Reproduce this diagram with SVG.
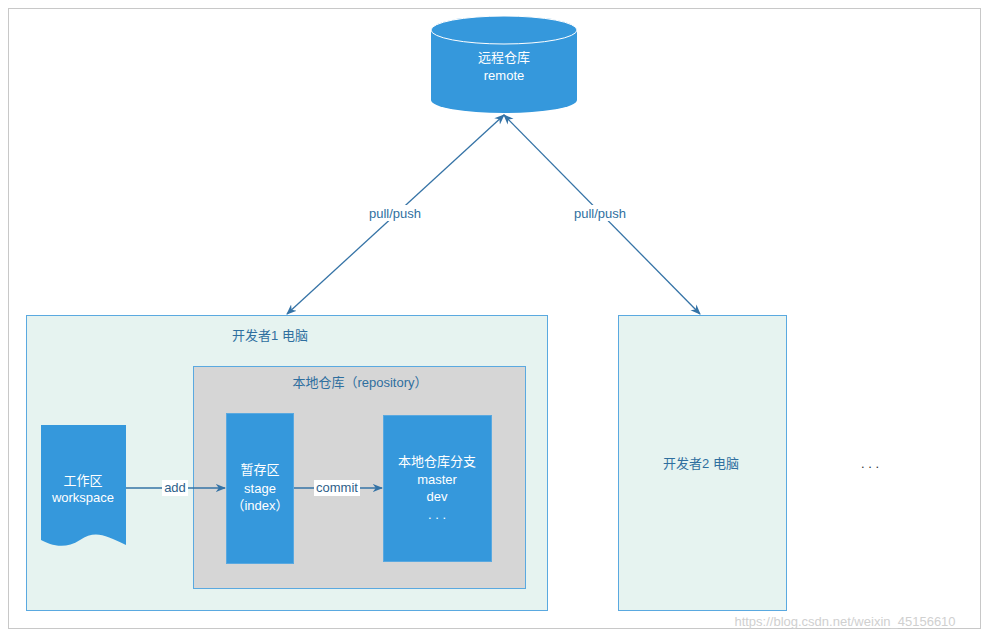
<svg xmlns="http://www.w3.org/2000/svg" width="989" height="639" viewBox="0 0 989 639">
<defs>
<style>
text{font-family:"Liberation Sans","Noto Sans CJK SC",sans-serif;font-size:13px;text-anchor:middle}
.w{fill:#fff}.b{fill:#2f6f9f}
.node{fill:#3598dc;stroke:#5aa9e0}
.ln{stroke:#3573a6;stroke-width:1.3;fill:none}
</style>
<marker id="ah" viewBox="0 0 10 10" refX="9" refY="5" markerWidth="8" markerHeight="8" orient="auto-start-reverse"><path d="M0,1 L10,5 L0,9 L3,5 Z" fill="#3573a6"/></marker>
</defs>
<rect width="989" height="639" fill="#fff"/>
<rect x="8.5" y="8.5" width="972" height="620" fill="none" stroke="#c8c8c8"/>
<g id="dev1"><rect x="26.5" y="315.5" width="521" height="295" fill="#e6f3f0" stroke="#5aa9e0"/><text x="270" y="340" class="b">开发者1  电脑</text></g>
<g id="repo"><rect x="193.5" y="366.5" width="332" height="222" fill="#d6d6d6" stroke="#5aa9e0"/><text x="360" y="387" class="b">本地仓库（repository）</text></g>
<g id="dev2"><rect x="618.5" y="315.5" width="168" height="295" fill="#e6f3f0" stroke="#5aa9e0"/><text x="701" y="468" class="b">开发者2  电脑</text></g>
<g id="remote"><path d="M431,30 V100 A73,13 0 0 0 577,100 V30 Z" fill="#3598dc"/><ellipse cx="504" cy="30" rx="73" ry="14" fill="#3598dc" stroke="#fff" stroke-width="1"/><text x="504" y="62" class="w">远程仓库</text><text x="504" y="80" class="w">remote</text></g>
<g id="workspace"><path d="M41,425 H126 V545 C105,535 95,530 80,540 C65,550 50,545 41,540 Z" fill="#3598dc"/><text x="83" y="485" class="w">工作区</text><text x="83" y="502" class="w">workspace</text></g>
<g id="stage"><rect x="226.5" y="413.5" width="67" height="150" class="node"/><text x="260" y="474" class="w">暂存区</text><text x="260" y="493" class="w">stage</text><text x="260" y="510" class="w">（index）</text></g>
<g id="branch"><rect x="383.5" y="415.5" width="108" height="146" class="node"/><text x="437" y="466" class="w">本地仓库分支</text><text x="437" y="484" class="w">master</text><text x="437" y="501" class="w">dev</text><text x="437" y="519" class="w">. . .</text></g>
<g id="more"><text x="870" y="468" fill="#333">. . .</text></g>
<g id="connectors">
<line x1="504" y1="115" x2="287" y2="314" class="ln" marker-start="url(#ah)" marker-end="url(#ah)"/>
<line x1="504" y1="115" x2="700" y2="314" class="ln" marker-start="url(#ah)" marker-end="url(#ah)"/>
<rect x="362" y="205" width="66" height="16" fill="#fff"/><text x="395" y="218" class="b">pull/push</text>
<rect x="568" y="205" width="66" height="16" fill="#fff"/><text x="600" y="218" class="b">pull/push</text>
<line x1="126" y1="488" x2="225" y2="488" class="ln" marker-end="url(#ah)"/>
<rect x="162" y="480" width="26" height="16" fill="#fff"/><text x="175" y="492" fill="#2f5f8a">add</text>
<line x1="294" y1="488" x2="382" y2="488" class="ln" marker-end="url(#ah)"/>
<rect x="314" y="480" width="46" height="16" fill="#fff"/><text x="337" y="492" fill="#2f5f8a">commit</text>
</g>
<text x="845" y="626" fill="#d0d0d0" style="font-size:13px">https://blog.csdn.net/weixin_45156610</text>
</svg>
